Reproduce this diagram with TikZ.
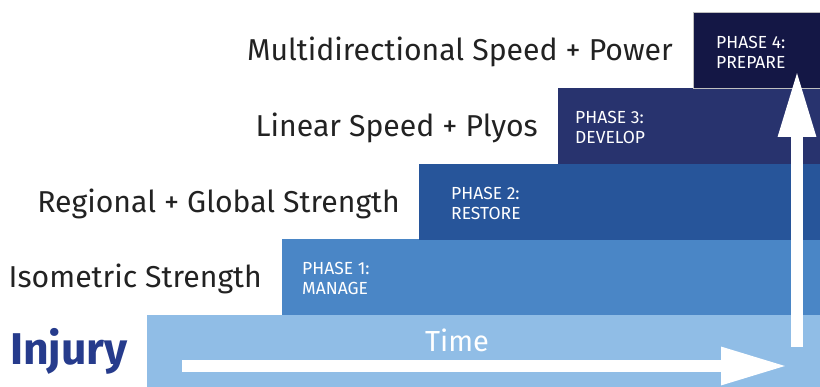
\documentclass[tikz,border=0pt]{standalone}
\usepackage{fontspec}
\setmainfont{Fira Sans}
\usetikzlibrary{arrows.meta,positioning}

\definecolor{timeblue}{HTML}{90BDE6}
\definecolor{phaseone}{HTML}{4A86C6}
\definecolor{phasetwo}{HTML}{27559A}
\definecolor{phasethree}{HTML}{28336E}
\definecolor{phasefour}{HTML}{141745}
\definecolor{injuryblue}{HTML}{263B8C}
\definecolor{labelgray}{HTML}{222222}

\begin{document}
\begin{tikzpicture}[
    x=1pt, y=-1pt,
    band/.style={rectangle, draw=none, inner sep=0pt, anchor=north west, minimum height=76pt},
    phase/.style={anchor=north west, align=left, inner sep=0pt, text=white, font=\fontsize{17.5}{20}\selectfont},
    goal/.style={anchor=east, inner sep=0pt, text=labelgray, font=\fontsize{30.2}{32}\selectfont},
    bigarrow/.style={draw=white, line width=12pt, -{Triangle[length=67pt, width=35pt]}}
]
\useasboundingbox (0,0) rectangle (820,387);

% bands, bottom to top
\node[band, fill=timeblue, minimum width=673pt, minimum height=72pt] (time) at (147,315) {};
\node[band, fill=phaseone, minimum width=538pt] (p1) at (282,239) {};
\node[band, fill=phasetwo, minimum width=401pt] (p2) at (419,164) {};
\node[band, fill=phasethree, minimum width=262pt] (p3) at (558,88) {};
\node[band, fill=phasefour, draw=black!25, line width=0.8pt, minimum width=127pt] (p4) at (693,12) {};

% phase names
\node[phase] (p1txt) at ([xshift=20pt, yshift=-23pt]p1.north west) {PHASE 1:\\MANAGE};
\node[phase] (p2txt) at ([xshift=32pt, yshift=-23pt]p2.north west) {PHASE 2:\\RESTORE};
\node[phase] (p3txt) at ([xshift=17pt, yshift=-23pt]p3.north west) {PHASE 3:\\DEVELOP};
\node[phase] (p4txt) at ([xshift=23pt, yshift=-24pt]p4.north west) {PHASE 4:\\PREPARE};

% goals on the left
\node[goal, left=20pt of p1.west, yshift=-2pt] (g1) {Isometric Strength};
\node[goal, left=19pt of p2.west, yshift=-2pt] (g2) {Regional + Global Strength};
\node[goal, left=20pt of p3.west, yshift=-2pt] (g3) {Linear Speed + Plyos};
\node[goal, left=20pt of p4.west, yshift=-2pt] (g4) {Multidirectional Speed + Power};
\node[anchor=east, inner sep=0pt, text=injuryblue, font=\fontsize{44.5}{48}\selectfont\bfseries,
      left=19pt of time.west] (injury) {Injury};
\node[text=white, inner sep=0pt, font=\fontsize{29}{32}\selectfont] (timetxt) at (457,340) {Time};

% arrows
\coordinate (hstart) at (182,366);
\coordinate (hend) at (788,366);
\coordinate (vstart) at (797,347);
\coordinate (vend) at (797,70);
\draw[bigarrow] (hstart) -- (hend);
\draw[bigarrow] (vstart) -- (vend);
\end{tikzpicture}
\end{document}
